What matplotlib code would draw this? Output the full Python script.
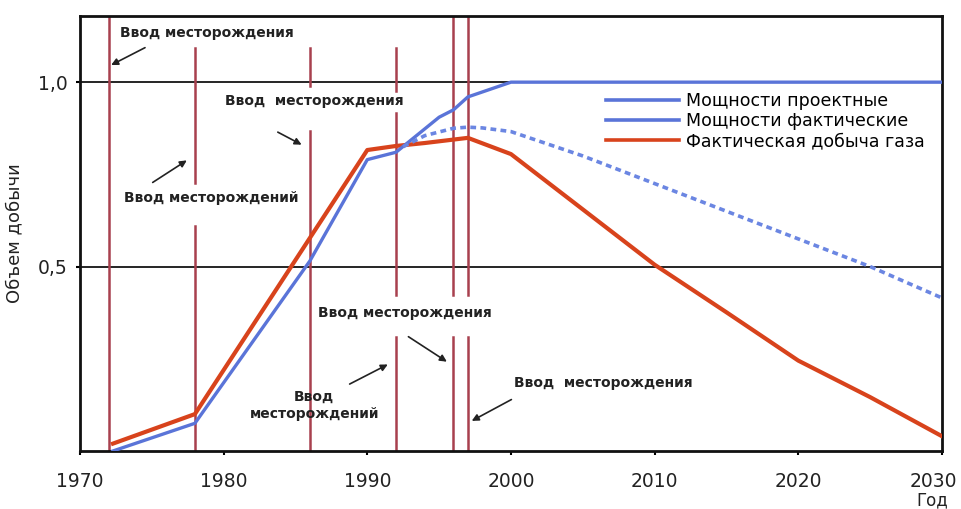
import matplotlib
matplotlib.use("Agg")
import matplotlib.pyplot as plt
import matplotlib.transforms as mtransforms

# годы ввода месторождений
field_years = [1972, 1978, 1986, 1992, 1996, 1997]

# мощности проектные
proj_years = [1972.3, 1978, 1986, 1990, 1992, 1995, 1996, 1997, 2000, 2030]
proj_values = [0.0, 0.075, 0.515, 0.79, 0.81, 0.905, 0.925, 0.96, 1.0, 1.0]

# мощности фактические
fact_years = [1992.5, 1994, 1996, 1997, 1998, 2000, 2005, 2010, 2015, 2020, 2025, 2030]
fact_values = [0.825, 0.855, 0.875, 0.878, 0.876, 0.866, 0.80, 0.725, 0.65, 0.575, 0.50, 0.415]

# фактическая добыча газа
gas_years = [1972.3, 1978, 1990, 1992, 1994, 1997, 2000, 2005, 2010, 2015, 2020, 2025, 2030]
gas_values = [0.02, 0.10, 0.816, 0.827, 0.835, 0.849, 0.805, 0.655, 0.505, 0.376, 0.245, 0.146, 0.04]

legend_labels = ["Мощности проектные", "Мощности фактические", "Фактическая добыча газа"]

x_ticks = [1970, 1980, 1990, 2000, 2010, 2020, 2030]
y_ticks = [0.5, 1.0]
y_tick_labels = ["0,5", "1,0"]

BLUE = "#5a74d8"
BLUE_DOT = "#6b86e2"
RED = "#d8431c"
VLINE = "#a8404e"

# участки вертикальных линий (разрывы под подписями)
VLINE_SEGMENTS = {
    1972: [(0.0, 1.18)],
    1978: [(0.0, 0.611), (0.727, 1.092)],
    1986: [(0.0, 0.868), (0.989, 1.092)],
    1992: [(0.0, 0.308), (0.422, 0.916), (0.976, 1.092)],
    1996: [(0.0, 0.308), (0.422, 1.18)],
    1997: [(0.0, 0.308), (0.422, 1.18)],
}

# подписи: текст, позиция текста, начало и конец стрелки
notes = [
    ("Ввод месторождения", (1972.8, 1.132), (1974.7, 1.097), (1972.0, 1.043)),
    ("Ввод  месторождения", (1980.1, 0.949), (1983.6, 0.868), (1985.6, 0.827)),
    ("Ввод месторождений", (1973.1, 0.686), (1974.9, 0.724), (1977.6, 0.792)),
    ("Ввод месторождения", (1986.6, 0.373), (1992.7, 0.314), (1995.7, 0.238)),
    ("Ввод\nместорождений", (1986.3, 0.124), (1988.6, 0.178), (1991.6, 0.238)),
    ("Ввод  месторождения", (2000.2, 0.184), (2000.2, 0.143), (1997.1, 0.078)),
]


def main():
    fig = plt.figure(figsize=(9.61, 5.09), dpi=100)
    ax = fig.add_axes([0.0832, 0.114, 0.897, 0.855])

    ax.set_xlim(1970, 2030)
    ax.set_ylim(0, 1.18)

    for y in y_ticks:
        ax.axhline(y, color="black", linewidth=1.2, zorder=1)

    for year in field_years:
        for lo, hi in VLINE_SEGMENTS[year]:
            ax.plot([year, year], [lo, hi], color=VLINE, linewidth=1.8, zorder=2)

    ax.plot(gas_years, gas_values, color=RED, linewidth=3.0, zorder=3)
    ax.plot(proj_years, proj_values, color=BLUE, linewidth=2.4, zorder=4)
    ax.plot(fact_years, fact_values, color=BLUE_DOT, linewidth=2.6,
            linestyle=(0, (1.6, 1.2)), zorder=4)

    for text, pos, start, end in notes:
        ax.text(pos[0], pos[1], text, fontsize=10, fontweight="bold",
                ha="left" if "\n" not in text else "center",
                va="center", color="#222222", zorder=5, linespacing=1.35)
        ax.annotate("", xy=end, xytext=start,
                    arrowprops=dict(arrowstyle="-|>", color="#222222",
                                    lw=1.2, mutation_scale=10),
                    zorder=5)

    # легенда
    handles = [
        plt.Line2D([], [], color=BLUE, linewidth=2.6),
        plt.Line2D([], [], color=BLUE, linewidth=2.6),
        plt.Line2D([], [], color=RED, linewidth=2.6),
    ]
    ax.legend(handles, legend_labels, loc="upper left",
              bbox_to_anchor=(0.602, 0.84), frameon=False, fontsize=12.5,
              handlelength=4.2, handletextpad=0.4, labelspacing=0.12,
              borderaxespad=0.0)

    ax.set_xticks(x_ticks)
    ax.set_xticklabels([str(x) for x in x_ticks], fontsize=13.5, color="#222222")
    ax.set_yticks(y_ticks)
    ax.set_yticklabels(y_tick_labels, fontsize=13.5, color="#222222")
    ax.tick_params(axis="x", length=3, width=1.5, pad=12)
    ax.tick_params(axis="y", length=3, width=1.5, pad=6)
    ax.set_ylabel("Объем добычи", fontsize=13, color="#222222", labelpad=10)

    # последнюю подпись сдвигаем влево, чтобы не обрезалась
    last = ax.get_xticklabels()[-1]
    last.set_transform(last.get_transform()
                       + mtransforms.ScaledTranslation(-0.09, 0, fig.dpi_scale_trans))
    ax.text(2029.3, -0.135, "Год", fontsize=12, ha="center", va="center",
            color="#222222")

    for spine in ax.spines.values():
        spine.set_color("#111111")
        spine.set_linewidth(2.0)

    fig.savefig("out.png", dpi=100)
    plt.close(fig)


if __name__ == "__main__":
    main()
